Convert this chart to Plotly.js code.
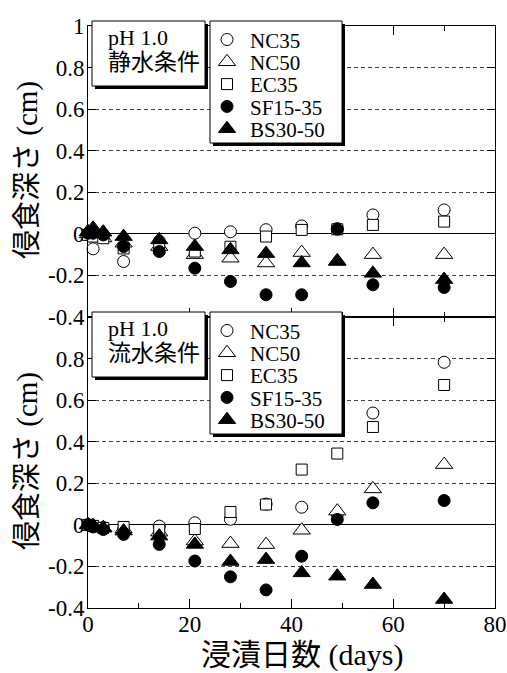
<!DOCTYPE html>
<html>
<head>
<meta charset="utf-8">
<script src="https://cdn.plot.ly/plotly-3.0.1.min.js"></script>
<style>
html,body{margin:0;padding:0;background:#fff;}
#chart{width:507px;height:673px;}
</style>
</head>
<body>
<div id="chart"></div>
<script>
// ---------- data ----------
const days = [0, 1, 3, 7, 14, 21, 28, 35, 42, 49, 56, 70];
const seriesNames = ['NC35', 'NC50', 'EC35', 'SF15-35', 'BS30-50'];

// 静水条件 (still water)
const stillNC35 = [0.0, -0.072, -0.01, -0.133, -0.035, 0.003, 0.01, 0.02, 0.038, 0.025, 0.091, 0.115];
const stillNC50 = [0.0, -0.01, -0.02, -0.045, -0.061, -0.1, -0.117, -0.14, -0.09, -0.13, -0.1, -0.1];
const stillEC35 = [-0.005, -0.013, -0.021, -0.07, -0.07, -0.085, -0.062, -0.013, 0.019, 0.022, 0.043, 0.059];
const stillSF1535 = [0.003, 0.003, -0.005, -0.061, -0.085, -0.165, -0.229, -0.293, -0.293, 0.022, -0.245, -0.258];
const stillBS3050 = [0.01, 0.027, 0.008, -0.013, -0.029, -0.061, -0.077, -0.095, -0.14, -0.133, -0.19, -0.22];

// 流水条件 (flowing water)
const flowNC35 = [0.0, -0.005, -0.012, -0.02, -0.006, 0.01, 0.027, 0.1, 0.085, 0.05, 0.538, 0.782];
const flowNC50 = [0.0, -0.005, -0.015, -0.02, -0.035, -0.078, -0.09, -0.095, -0.026, 0.066, 0.173, 0.29];
const flowEC35 = [0.0, -0.005, -0.015, -0.01, -0.025, -0.02, 0.062, 0.098, 0.266, 0.343, 0.471, 0.673];
const flowSF1535 = [0.0, -0.01, -0.022, -0.046, -0.094, -0.174, -0.25, -0.313, -0.151, 0.026, 0.106, 0.117];
const flowBS3050 = [0.0, -0.005, -0.015, -0.03, -0.054, -0.094, -0.176, -0.167, -0.231, -0.247, -0.287, -0.359];

// ticks
const xTickVals = [0, 20, 40, 60, 80];
const xTickText = ['0', '20', '40', '60', '80'];
const xMinorTickVals = [10, 30, 50, 70];
const yTickValsTop = [-0.4, -0.2, 0, 0.2, 0.4, 0.6, 0.8, 1];
const yTickTextTop = ['-0.4', '-0.2', '0', '0.2', '0.4', '0.6', '0.8', '1'];
const yTickValsBot = [-0.4, -0.2, 0, 0.2, 0.4, 0.6, 0.8];
const yTickTextBot = ['-0.4', '-0.2', '0', '0.2', '0.4', '0.6', '0.8'];

// texts
const panelPH = ['pH 1.0', 'pH 1.0'];
const panelCondition = ['静水条件', '流水条件'];
const yTitle = '侵食深さ (cm)';
const xTitle = '浸漬日数 (days)';

// ---------- styling ----------
const SERIF = 'Liberation Serif, Times New Roman, serif';
const MIXED = 'Liberation Serif, Noto Sans CJK JP, serif';
const markerStyles = [
  {symbol: 'circle', size: 12, color: 'white'},
  {symbol: 'triangle-up', size: 15, color: 'white'},
  {symbol: 'square', size: 11, color: 'white'},
  {symbol: 'circle', size: 12, color: 'black'},
  {symbol: 'triangle-up', size: 15, color: 'black'}
];

const stillSeries = [stillNC35, stillNC50, stillEC35, stillSF1535, stillBS3050];
const flowSeries = [flowNC35, flowNC50, flowEC35, flowSF1535, flowBS3050];

const traces = [];
function addPanel(series, xa, ya, legendId) {
  series.forEach(function (vals, i) {
    const st = markerStyles[i];
    traces.push({
      type: 'scatter', mode: 'markers',
      x: days, y: vals, name: seriesNames[i],
      xaxis: xa, yaxis: ya, legend: legendId,
      marker: {symbol: st.symbol, size: st.size, color: st.color,
               line: {color: 'black', width: 1}},
      cliponaxis: false
    });
  });
}
addPanel(stillSeries, 'x', 'y', 'legend');
addPanel(flowSeries, 'x2', 'y2', 'legend2');

// pixel geometry helpers (layout only)
const PL = 88, PR = 495, PT = 26, PB = 608;
function px(xp) { return (xp - PL) / (PR - PL); }
function py(yp) { return (PB - yp) / (PB - PT); }

function xAxis(showLabels) {
  return {
    range: [0, 80], tickvals: xTickVals, ticktext: xTickText,
    showticklabels: showLabels, ticklabelstandoff: -5,
    ticks: 'inside', ticklen: 9, tickwidth: 1, tickcolor: 'black',
    minor: {tickvals: xMinorTickVals, ticks: 'inside', ticklen: 5, tickcolor: 'black', showgrid: false},
    showline: true, linecolor: 'black', linewidth: 1, mirror: 'ticks',
    showgrid: false, zeroline: false, fixedrange: true,
    tickfont: {family: SERIF, size: 23, color: 'black'}
  };
}
function yAxis(domain, vals, text) {
  return {
    domain: domain, range: [-0.4, 1], tickvals: vals, ticktext: text,
    ticks: 'inside', ticklen: 8, tickwidth: 1, tickcolor: 'black',
    showline: true, linecolor: 'black', linewidth: 1, mirror: 'ticks',
    showgrid: true, gridcolor: '#444', gridwidth: 1, griddash: '4px,3px',
    zeroline: true, zerolinecolor: 'black', zerolinewidth: 1,
    fixedrange: true, ticklabelstandoff: -2,
    tickfont: {family: SERIF, size: 23, color: 'black'}
  };
}

const shapes = [];
const annotations = [];
const PANEL_H = 291;
[0, 1].forEach(function (p) {
  const dy = p * PANEL_H;
  // box 1 (condition label) shadow + box
  shapes.push({type: 'rect', xref: 'paper', yref: 'paper', layer: 'above',
    x0: px(95), x1: px(208), y0: py(89 + dy), y1: py(24 + dy),
    fillcolor: 'black', line: {width: 0}});
  shapes.push({type: 'rect', xref: 'paper', yref: 'paper', layer: 'above',
    x0: px(92), x1: px(205), y0: py(86 + dy), y1: py(21 + dy),
    fillcolor: 'white', line: {color: 'black', width: 1}});
  // box 2 (legend) shadow + box
  shapes.push({type: 'rect', xref: 'paper', yref: 'paper', layer: 'above',
    x0: px(213), x1: px(345), y0: py(146 + dy), y1: py(24 + dy),
    fillcolor: 'black', line: {width: 0}});
  shapes.push({type: 'rect', xref: 'paper', yref: 'paper', layer: 'above',
    x0: px(210), x1: px(342), y0: py(143 + dy), y1: py(21 + dy),
    fillcolor: 'white', line: {color: 'black', width: 1}});
  // condition label text: two lines in one annotation, tight line spacing
  annotations.push({xref: 'paper', yref: 'paper', x: px(106), y: py(50 + dy),
    xanchor: 'left', yanchor: 'middle', align: 'left', showarrow: false,
    text: '<span style="font-size:22px">' + panelPH[p] + '</span><br>' +
          '<span style="font-size:23px">' + panelCondition[p] + '</span>',
    font: {family: MIXED, size: 19.6, color: 'black'}});
  // y title
  annotations.push({xref: 'paper', yref: 'paper', x: px(27), y: py(170 + dy),
    xanchor: 'center', yanchor: 'middle', showarrow: false, textangle: -90,
    text: yTitle, font: {family: MIXED, size: 29, color: 'black'}});
});
// x title
annotations.push({xref: 'paper', yref: 'paper', x: px(301.5), y: py(655),
  xanchor: 'center', yanchor: 'middle', showarrow: false,
  text: xTitle, font: {family: MIXED, size: 30, color: 'black'}});

const legendCommon = {
  xanchor: 'left', yanchor: 'top', bgcolor: 'rgba(0,0,0,0)', borderwidth: 0,
  font: {family: SERIF, size: 21, color: 'black'}, traceorder: 'normal'
};

const layout = {
  width: 507, height: 673,
  margin: {l: PL, r: 507 - PR, t: PT, b: 673 - PB, pad: 0},
  paper_bgcolor: 'white', plot_bgcolor: 'white',
  showlegend: true,
  xaxis: Object.assign(xAxis(false), {anchor: 'y'}),
  yaxis: Object.assign(yAxis([0.5, 1], yTickValsTop, yTickTextTop), {anchor: 'x'}),
  xaxis2: Object.assign(xAxis(true), {anchor: 'y2', matches: 'x'}),
  yaxis2: Object.assign(yAxis([0, 0.5], yTickValsBot, yTickTextBot), {anchor: 'x2'}),
  legend: Object.assign({x: px(210), y: py(21)}, legendCommon),
  legend2: Object.assign({x: px(210), y: py(21 + PANEL_H)}, legendCommon),
  shapes: shapes,
  annotations: annotations
};

Plotly.newPlot('chart', traces, layout, {staticPlot: true, displayModeBar: false}).then(function (gd) {
  // tighten legend row spacing and symbol position to match the reference
  const ROW0 = 18.5, ROWGAP = 22.3;
  ['legend', 'legend2'].forEach(function (cls) {
    const g = gd.querySelector('g.' + cls);
    if (!g) return;
    g.querySelectorAll('g.traces').forEach(function (it, i) {
      const tr = it.getAttribute('transform') || '';
      const m = /translate\(\s*([-\d.e]+)[ ,]+([-\d.e]+)\s*\)/.exec(tr);
      const x = m ? parseFloat(m[1]) : 0;
      it.setAttribute('transform', 'translate(' + x + ',' + (ROW0 + i * ROWGAP) + ')');
      const pts = it.querySelector('g.legendpoints');
      if (pts) {
        const t0 = pts.getAttribute('transform') || '';
        pts.setAttribute('transform', (t0 + ' translate(-3,0)').trim());
      }
    });
  });
});
</script>
</body>
</html>
